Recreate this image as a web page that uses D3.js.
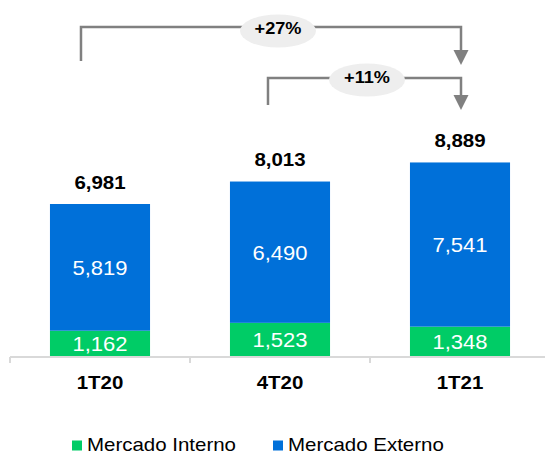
<!DOCTYPE html>
<html>
<head>
<meta charset="utf-8">
<script src="https://cdn.jsdelivr.net/npm/d3@7"></script>
<style>
  html, body { margin: 0; padding: 0; background: #fff; }
  svg { display: block; font-family: "Liberation Sans", Arial, sans-serif; }
</style>
</head>
<body>
<svg id="chart" width="545" height="455"></svg>
<script>
// Quarterly volumes split by market
const categories = ["1T20", "4T20", "1T21"];
const mercadoInterno = [1162, 1523, 1348];
const mercadoExterno = [5819, 6490, 7541];
const totals = [6981, 8013, 8889];
const seriesNames = ["Mercado Interno", "Mercado Externo"];
const growthLabels = ["+27%", "+11%"];

const colors = { interno: "#00cc66", externo: "#0070d9" };
const fmt = d3.format(",");
const stretch = 1.1; // slightly wide lettering

const svg = d3.select("#chart");
const baseY = 356;

const x = d3.scaleBand()
  .domain(categories)
  .range([10, 550])
  .paddingInner(0.444)
  .paddingOuter(0.222);

const y = d3.scaleLinear()
  .domain([0, 6981])
  .range([baseY, baseY - 152]);

const rows = categories.map((c, i) => ({
  cat: c,
  interno: mercadoInterno[i],
  externo: mercadoExterno[i],
  total: totals[i]
}));

const stack = d3.stack().keys(["interno", "externo"])(rows);

// place a text at (px, py) with widened glyphs
function label(sel, px, py) {
  return sel.attr("transform", d => `translate(${px(d)},${py(d)}) scale(${stretch},1)`);
}

// Stacked bars
const layers = svg.append("g").selectAll("g")
  .data(stack)
  .join("g")
  .attr("fill", d => colors[d.key]);

layers.selectAll("rect")
  .data(d => d)
  .join("rect")
  .attr("x", d => x(d.data.cat))
  .attr("width", x.bandwidth())
  .attr("y", d => y(d[1]))
  .attr("height", d => y(d[0]) - y(d[1]));

// Segment values
layers.selectAll("text")
  .data(d => d.map(v => ({ v, key: d.key })))
  .join("text")
  .call(label,
    d => x(d.v.data.cat) + x.bandwidth() / 2,
    d => (y(d.v[0]) + y(d.v[1])) / 2 + 7.5)
  .attr("text-anchor", "middle")
  .attr("fill", "#fff")
  .attr("font-size", 20)
  .text(d => fmt(d.v.data[d.key]));

// Totals above bars
svg.append("g").selectAll("text")
  .data(rows)
  .join("text")
  .call(label, d => x(d.cat) + x.bandwidth() / 2, d => y(d.total) - 15.5)
  .attr("text-anchor", "middle")
  .attr("font-size", 18.6)
  .attr("font-weight", "bold")
  .attr("fill", "#000")
  .text(d => fmt(d.total));

// Category axis
const axisY = baseY + 1;
const axisG = svg.append("g");
axisG.append("line")
  .attr("x1", 10).attr("x2", 545)
  .attr("y1", axisY).attr("y2", axisY)
  .attr("stroke", "#d9d9d9").attr("stroke-width", 2);
const tickXs = categories.map(c => x(c) - x.step() * x.paddingOuter()).concat([x.range()[1]]);
axisG.selectAll("line.tick")
  .data(tickXs)
  .join("line")
  .attr("class", "tick")
  .attr("x1", d => d).attr("x2", d => d)
  .attr("y1", axisY).attr("y2", axisY + 6)
  .attr("stroke", "#d9d9d9").attr("stroke-width", 2);
axisG.selectAll("text")
  .data(categories)
  .join("text")
  .call(label, d => x(d) + x.bandwidth() / 2, () => 389)
  .attr("text-anchor", "middle")
  .attr("font-size", 18.6)
  .attr("font-weight", "bold")
  .attr("fill", "#000")
  .text(d => d);

// Growth brackets
const brackets = [
  { from: categories[0], fromOff: -0.19, to: categories[2], yTop: 27, yBottom: 61, arrowTip: 65, label: growthLabels[0], labelX: 278, labelY: 31 },
  { from: categories[1], fromOff: -0.12, to: categories[2], yTop: 78, yBottom: 105, arrowTip: 110, label: growthLabels[1], labelX: 367, labelY: 80 }
];
const gray = "#808080";
const bg = svg.append("g");
brackets.forEach(b => {
  const x0 = x(b.from) + x.bandwidth() * (0.5 + b.fromOff);
  const x1 = x(b.to) + x.bandwidth() / 2 + 1;
  bg.append("path")
    .attr("d", `M${x0},${b.yBottom}V${b.yTop}H${x1}V${b.arrowTip - 12}`)
    .attr("fill", "none")
    .attr("stroke", gray)
    .attr("stroke-width", 2.5);
  bg.append("path")
    .attr("d", `M${x1 - 7.5},${b.arrowTip - 15}L${x1 + 7.5},${b.arrowTip - 15}L${x1},${b.arrowTip}Z`)
    .attr("fill", gray);
  bg.append("ellipse")
    .attr("cx", b.labelX).attr("cy", b.labelY)
    .attr("rx", 38).attr("ry", 16.5)
    .attr("fill", "#eeeeee");
  bg.append("text")
    .datum(b)
    .call(label, d => d.labelX, d => d.labelY + 2.5)
    .attr("text-anchor", "middle")
    .attr("font-size", 16.5)
    .attr("font-weight", "bold")
    .attr("fill", "#000")
    .text(b.label);
});

// Legend
const legendItems = [
  { name: seriesNames[0], color: colors.interno, x: 72 },
  { name: seriesNames[1], color: colors.externo, x: 273 }
];
const lg = svg.append("g");
legendItems.forEach(d => {
  lg.append("rect")
    .attr("x", d.x).attr("y", 440.5)
    .attr("width", 10).attr("height", 10)
    .attr("fill", d.color);
  lg.append("text")
    .datum(d)
    .call(label, v => v.x + 15, () => 450.5)
    .attr("font-size", 18.6)
    .attr("fill", "#000")
    .text(d.name);
});
</script>
</body>
</html>
